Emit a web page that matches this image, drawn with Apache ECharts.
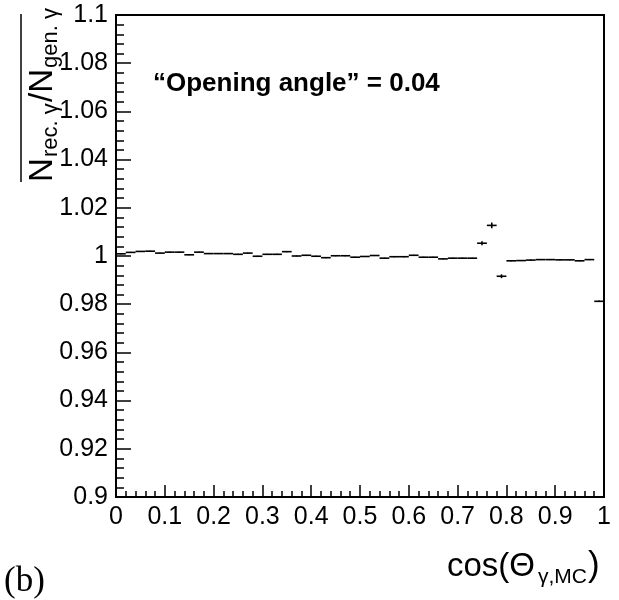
<!DOCTYPE html>
<html>
<head>
<meta charset="utf-8">
<script src="https://cdn.jsdelivr.net/npm/echarts@6/dist/echarts.min.js"></script>
<style>html,body{margin:0;padding:0;background:#fff;}#c{width:619px;height:600px;}</style>
</head>
<body>
<div id="c"></div>
<script>
// bin edges of the histogram (cos theta)
const binEdges = [0,0.02,0.04,0.06,0.08,0.1,0.12,0.14,0.16,0.18,0.2,0.22,0.24,0.26,0.28,0.3,0.32,0.34,0.36,0.38,0.4,0.42,0.44,0.46,0.48,0.5,0.52,0.54,0.56,0.58,0.6,0.62,0.64,0.66,0.68,0.7,0.72,0.74,0.76,0.78,0.8,0.82,0.84,0.86,0.88,0.9,0.92,0.94,0.96,0.98,1.0];
// ratio N_rec / N_gen per bin
const ratioValues = [1.0009,1.0015,1.0019,1.0020,1.0012,1.0016,1.0016,1.0005,1.0016,1.0010,
  1.0010,1.0010,1.0007,1.0012,0.9999,1.0007,1.0007,1.0018,1.0000,1.0003,
  0.9999,0.9993,1.0001,1.0001,0.9995,0.9998,1.0002,0.9991,0.9997,0.9997,
  1.0003,0.9995,0.9995,0.9988,0.9991,0.9991,0.9991,1.0053,1.0127,0.9916,
  0.9980,0.9981,0.9983,0.9985,0.9985,0.9984,0.9984,0.9980,0.9985,0.9812];
// statistical errors per bin
const ratioErrors = [0.0002,0.0002,0.0002,0.0002,0.0002,0.0002,0.0002,0.0002,0.0002,0.0002,
  0.0002,0.0002,0.0002,0.0002,0.0002,0.0002,0.0002,0.0002,0.0002,0.0002,
  0.0002,0.0002,0.0002,0.0002,0.0002,0.0002,0.0002,0.0002,0.0002,0.0002,
  0.0002,0.0002,0.0002,0.0002,0.0002,0.0002,0.0002,0.0008,0.0012,0.0008,
  0.0002,0.0002,0.0002,0.0002,0.0002,0.0002,0.0002,0.0002,0.0002,0.0003];
const xTicks = [0,0.1,0.2,0.3,0.4,0.5,0.6,0.7,0.8,0.9,1];
const yTicks = [0.9,0.92,0.94,0.96,0.98,1,1.02,1.04,1.06,1.08,1.1];

const data = ratioValues.map((v, i) => [binEdges[i], binEdges[i + 1], v, ratioErrors[i]]);

const chart = echarts.init(document.getElementById('c'), null, {renderer: 'canvas'});
const fmt = v => String(Number(v.toFixed(3)));
const FONT = 'Liberation Sans';

chart.setOption({
  backgroundColor: '#fff',
  animation: false,
  grid: {left: 116, right: 15, top: 15, bottom: 103, show: true, borderColor: '#000', borderWidth: 2, backgroundColor: 'transparent'},
  xAxis: {
    type: 'value', min: xTicks[0], max: xTicks[xTicks.length - 1], interval: 0.1,
    axisLine: {show: true, onZero: false, lineStyle: {color: '#000', width: 2}},
    axisTick: {show: true, inside: true, length: 12, lineStyle: {color: '#000', width: 1.5}},
    minorTick: {show: true, splitNumber: 5, length: 6, lineStyle: {color: '#000', width: 1.5}},
    axisLabel: {color: '#000', fontFamily: FONT, fontSize: 25, margin: 8, formatter: fmt},
    splitLine: {show: false}
  },
  yAxis: {
    type: 'value', min: yTicks[0], max: yTicks[yTicks.length - 1], interval: 0.02,
    axisLine: {show: true, onZero: false, lineStyle: {color: '#000', width: 2}},
    axisTick: {show: true, inside: true, length: 15, lineStyle: {color: '#000', width: 1.5}},
    minorTick: {show: true, splitNumber: 5, length: 8, lineStyle: {color: '#000', width: 1.5}},
    axisLabel: {color: '#000', fontFamily: FONT, fontSize: 25, margin: 8, formatter: fmt},
    splitLine: {show: false}
  },
  series: [{
    type: 'custom',
    clip: false,
    data: data,
    encode: {x: [0, 1], y: 2},
    renderItem: function (params, api) {
      const lo = api.value(0), hi = api.value(1), v = api.value(2), e = api.value(3);
      const mid = (lo + hi) / 2;
      const a = api.coord([lo, v]), b = api.coord([hi, v]);
      const t = api.coord([mid, v + e]), d = api.coord([mid, v - e]);
      const st = {stroke: '#000', lineWidth: 1.6};
      return {type: 'group', children: [
        {type: 'line', shape: {x1: a[0], y1: a[1], x2: b[0], y2: b[1]}, style: st},
        {type: 'line', shape: {x1: t[0], y1: t[1], x2: d[0], y2: d[1]}, style: st}
      ]};
    }
  }],
  graphic: [
    {type: 'text', x: 153, y: 97, style: {text: '\u201COpening angle\u201D = 0.04', font: 'bold 26px "Liberation Sans"', fill: '#000', verticalAlign: 'bottom'}},
    // x axis title
    {type: 'text', x: 447, y: 583, style: {text: 'cos(\u0398', font: '33px "Liberation Sans"', fill: '#000', verticalAlign: 'bottom', align: 'left'}},
    {type: 'text', x: 538, y: 588, style: {text: '\u03B3,MC', font: '21px "Liberation Sans"', fill: '#000', verticalAlign: 'bottom', align: 'left'}},
    {type: 'text', x: 588, y: 584, style: {text: ')', font: '35px "Liberation Sans"', fill: '#000', verticalAlign: 'bottom', align: 'left'}},
    // y axis title (rotated)
    {type: 'group', x: 52, y: 182, rotation: Math.PI / 2, children: [
      {type: 'text', x: 0, y: 7, style: {text: 'N', font: '33px "Liberation Sans"', fill: '#000', verticalAlign: 'bottom'}},
      {type: 'text', x: 25, y: 10, style: {text: 'rec. \u03B3', font: '22px "Liberation Sans"', fill: '#000', verticalAlign: 'bottom'}},
      {type: 'text', x: 80, y: 7, style: {text: '/N', font: '33px "Liberation Sans"', fill: '#000', verticalAlign: 'bottom'}},
      {type: 'text', x: 114, y: 10, style: {text: 'gen. \u03B3', font: '22px "Liberation Sans"', fill: '#000', verticalAlign: 'bottom'}}
    ]},
    {type: 'line', shape: {x1: 21, y1: 14, x2: 21, y2: 182}, style: {stroke: '#000', lineWidth: 1.5}},
    {type: 'text', x: 4, y: 599, style: {text: '(b)', font: '35px "Liberation Serif"', fill: '#000', verticalAlign: 'bottom'}}
  ]
});
</script>
</body>
</html>
